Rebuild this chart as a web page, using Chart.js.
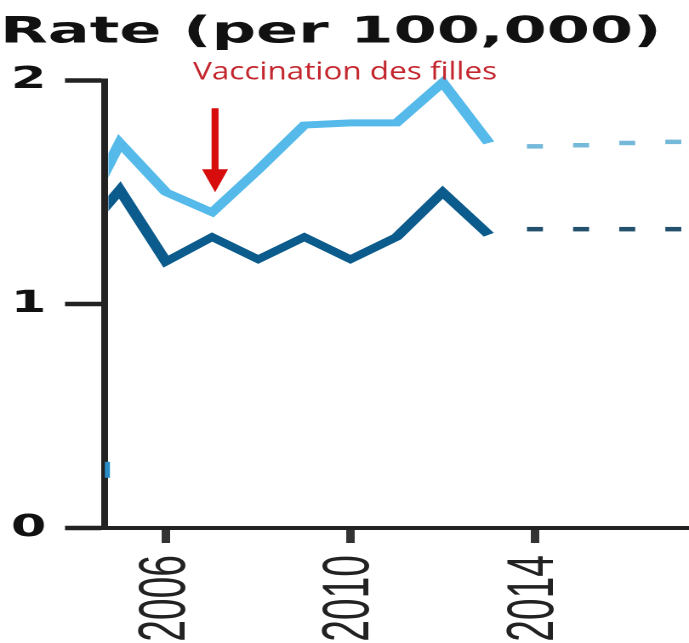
<!DOCTYPE html>
<html>
<head>
<meta charset="utf-8">
<script src="https://cdn.jsdelivr.net/npm/chart.js@4.4.1/dist/chart.umd.min.js"></script>
<style>
  html, body { margin: 0; padding: 0; background: #fff; overflow: hidden; }
  /* the source picture is stretched sideways, so the chart is drawn narrow and widened */
  #wrap { width: 405px; height: 643px; transform: scaleX(1.7012); transform-origin: 0 0; }
</style>
</head>
<body>
<div id="wrap"><canvas id="rateChart" width="405" height="643"></canvas></div>
<script>
// data
const years = [2004, 2005, 2006, 2007, 2008, 2009, 2010, 2011, 2012, 2013];
const lightRate = [1.32, 1.72, 1.50, 1.41, 1.60, 1.80, 1.81, 1.81, 1.99, 1.72];
const darkRate = [1.27, 1.51, 1.19, 1.30, 1.20, 1.30, 1.20, 1.30, 1.50, 1.31];

const projYears = [2014, 2015, 2016, 2017];
const lightProj = [1.705, 1.71, 1.72, 1.725];
const darkProj = [1.335, 1.335, 1.335, 1.335];

const strayMark = [{ x: 2004.73, y: 0.26 }];

const xTickYears = [2006, 2010, 2014];
const yTicks = [0, 1, 2];

const titleText = 'Rate (per 100,000)';
const noteText = 'Vaccination des filles';
const noteYear = 2007;
const arrowFrom = 1.875;
const arrowTo = 1.5;

const STRETCH = 689 / 405;

function toPoints(xs, ys) {
    return xs.map(function(x, i) { return { x: x, y: ys[i] }; });
}

// red label and arrow, drawn without the sideways stretch
const notePlugin = {
    id: 'note',
    afterDatasetsDraw: function(chart) {
        const ctx = chart.ctx;
        const xs = chart.scales.x;
        const ys = chart.scales.y;
        const x = xs.getPixelForValue(noteYear);
        const yTop = ys.getPixelForValue(arrowFrom);
        const yTip = ys.getPixelForValue(arrowTo);

        ctx.save();
        ctx.translate(x, 0);
        ctx.scale(1 / STRETCH, 1);

        // arrow
        ctx.fillStyle = '#d70d0d';
        ctx.strokeStyle = '#d70d0d';
        ctx.lineWidth = 7;
        ctx.beginPath();
        ctx.moveTo(3, yTop);
        ctx.lineTo(3, yTip - 20);
        ctx.stroke();
        ctx.beginPath();
        ctx.moveTo(-10, yTip - 23);
        ctx.lineTo(16, yTip - 23);
        ctx.lineTo(3, yTip);
        ctx.closePath();
        ctx.fill();

        // text
        ctx.font = '25px "Open Sans"';
        ctx.fillStyle = '#c3262d';
        ctx.textBaseline = 'alphabetic';
        const w = ctx.measureText(noteText).width;
        ctx.translate(-19, ys.getPixelForValue(2) - 1);
        ctx.scale(304 / w, 1);
        ctx.fillText(noteText, 0, 0);
        ctx.restore();
    }
};

new Chart(document.getElementById('rateChart'), {
    type: 'line',
    data: {
        datasets: [
            {
                label: 'light',
                data: toPoints(years, lightRate),
                borderColor: '#55b9ea',
                borderWidth: 7,
                pointRadius: 0,
                tension: 0,
                clip: { left: -2, top: 10, right: 0, bottom: 0 }
            },
            {
                label: 'dark',
                data: toPoints(years, darkRate),
                borderColor: '#0b5b8c',
                borderWidth: 7,
                pointRadius: 0,
                tension: 0,
                clip: { left: -2, top: 10, right: 0, bottom: 0 }
            },
            {
                label: 'light projection',
                data: toPoints(projYears, lightProj),
                showLine: false,
                pointStyle: 'line',
                pointRadius: 4.7,
                pointHoverRadius: 4.7,
                pointBorderWidth: 4.5,
                pointBorderColor: '#74b8da',
                clip: false
            },
            {
                label: 'dark projection',
                data: toPoints(projYears, darkProj),
                showLine: false,
                pointStyle: 'line',
                pointRadius: 4.7,
                pointHoverRadius: 4.7,
                pointBorderWidth: 4.5,
                pointBorderColor: '#22506d',
                clip: false
            },
            {
                label: 'mark',
                data: strayMark,
                showLine: false,
                pointStyle: 'line',
                pointRotation: 90,
                pointRadius: 8,
                pointBorderWidth: 3,
                pointBorderColor: '#2a8cc6',
                clip: false
            }
        ]
    },
    options: {
        responsive: false,
        animation: false,
        devicePixelRatio: 2,
        events: [],
        layout: { padding: 0, autoPadding: false },
        plugins: {
            legend: { display: false },
            tooltip: { enabled: false },
            title: {
                display: true,
                text: titleText,
                align: 'start',
                color: '#111',
                font: { family: 'DejaVu Sans', size: 36.5, weight: 'bold' },
                padding: { top: 11, bottom: 25.5 }
            }
        },
        scales: {
            x: {
                type: 'linear',
                min: 2004.678,
                max: 2017.34,
                afterBuildTicks: function(s) { s.ticks = xTickYears.map(function(v) { return { value: v }; }); },
                afterFit: function(s) { s.height = 115; s.paddingLeft = 0; s.paddingRight = 0; },
                grid: { drawOnChartArea: false, drawTicks: true, tickLength: 15, tickWidth: 5, tickColor: '#333' },
                border: { display: true, width: 4, color: '#222' },
                ticks: {
                    autoSkip: false,
                    maxRotation: 90,
                    minRotation: 90,
                    padding: 12,
                    color: '#222',
                    font: { family: 'Liberation Sans', size: 39 },
                    callback: function(v) { return String(v); }
                }
            },
            y: {
                min: 0,
                max: 2,
                afterBuildTicks: function(s) { s.ticks = yTicks.map(function(v) { return { value: v }; }); },
                afterFit: function(s) { s.width = 61.7; s.paddingTop = 0; s.paddingBottom = 0; },
                grid: { drawOnChartArea: false, drawTicks: true, tickLength: 23.5, tickWidth: 4.5, tickColor: '#222' },
                border: { display: true, width: 4, color: '#222' },
                ticks: {
                    padding: 11,
                    color: '#111',
                    font: { family: 'DejaVu Sans', size: 30, weight: 'bold' }
                }
            }
        }
    },
    plugins: [notePlugin]
});
</script>
</body>
</html>
